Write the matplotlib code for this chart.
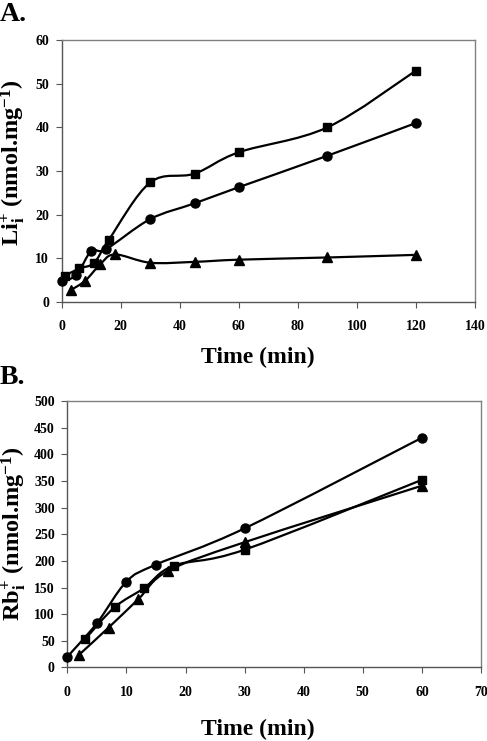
import matplotlib
matplotlib.use('Agg')
import matplotlib.pyplot as plt
from matplotlib.path import Path
from matplotlib.patches import PathPatch
import numpy as np

plt.rcParams['font.family'] = 'Liberation Serif'
plt.rcParams['font.weight'] = 'bold'
plt.rcParams['mathtext.fontset'] = 'custom'
plt.rcParams['mathtext.rm'] = 'Liberation Serif:bold'
plt.rcParams['mathtext.it'] = 'Liberation Serif:bold'
plt.rcParams['mathtext.bf'] = 'Liberation Serif:bold'
plt.rcParams['mathtext.default'] = 'rm'

# panel A: Li+ uptake
li_t_circ = [0, 5, 10, 15, 30, 45, 60, 90, 120]
li_circ = [4.8, 6.2, 11.7, 12.1, 19.0, 22.6, 26.3, 33.5, 41.0]
li_t_sq = [1, 6, 11, 16, 30, 45, 60, 90, 120]
li_sq = [6.0, 7.7, 9.0, 14.3, 27.4, 29.4, 34.3, 40.0, 53.0]
li_t_tri = [3, 8, 13, 18, 30, 45, 60, 90, 120]
li_tri = [2.7, 4.9, 8.6, 10.9, 9.0, 9.2, 9.7, 10.2, 10.8]

# panel B: Rb+ uptake
rb_t_circ = [0, 5, 10, 15, 30, 60]
rb_circ = [20, 83, 161, 193, 261, 431]
rb_t_sq = [3, 8, 13, 18, 30, 60]
rb_sq = [53, 113, 149, 191, 221, 352]
rb_t_tri = [2, 7, 12, 17, 30, 60]
rb_tri = [24, 75, 128, 181, 235, 341]


def smooth_line(ax, x, y):
    # Excel-style smoothed line: cubic bezier segments through the points
    pts = np.column_stack([x, y]).astype(float)
    n = len(pts)
    verts = [pts[0]]
    codes = [Path.MOVETO]
    for i in range(n - 1):
        p0 = pts[i - 1] if i > 0 else pts[i]
        p1 = pts[i]
        p2 = pts[i + 1]
        p3 = pts[i + 2] if i + 2 < n else pts[i + 1]
        c1 = p1 + (p2 - p0) / 6.0
        c2 = p2 - (p3 - p1) / 6.0
        verts += [c1, c2, p2]
        codes += [Path.CURVE4] * 3
    ax.add_patch(PathPatch(Path(verts, codes), fill=False, lw=1.6,
                           edgecolor='black', zorder=2))


def style(ax, xmax, xstep, ymax, ystep):
    ax.set_xlim(0, xmax)
    ax.set_ylim(0, ymax)
    ax.set_xticks(np.arange(0, xmax + 1, xstep))
    ax.set_yticks(np.arange(0, ymax + 1, ystep))
    for s in ax.spines.values():
        s.set_color('#808080')
        s.set_linewidth(1.0)
    ax.spines['left'].set_color('#555555')
    ax.spines['bottom'].set_color('#555555')
    ax.tick_params(direction='out', length=4, width=0.8, color='#555555',
                   labelsize=10)
    ax.tick_params(axis='x', pad=9)
    ax.tick_params(axis='y', pad=5)
    for lab in ax.get_xticklabels() + ax.get_yticklabels():
        lab.set_fontweight('bold')


fig = plt.figure(figsize=(4.87, 7.41), dpi=100)

axA = fig.add_axes([0.1267, 0.5924, 0.8487, 0.3536])
for t, v, m, ms in [(li_t_circ, li_circ, 'o', 6.5), (li_t_sq, li_sq, 's', 6),
                    (li_t_tri, li_tri, '^', 7)]:
    smooth_line(axA, t, v)
    axA.plot(t, v, linestyle='none', marker=m, markersize=ms, color='black',
             zorder=3, clip_on=False)
style(axA, 140, 20, 60, 10)
axA.set_xlabel('Time (min)', fontsize=17, fontweight='bold')
axA.xaxis.set_label_coords(0.475, -0.172)
axA.set_ylabel(r'Li$^{+}_{i}$ (nmol.mg$^{-1}$)', fontsize=17.5,
               fontweight='bold')
axA.yaxis.set_label_coords(-0.083, 0.53)
fig.text(0.0, 0.997, 'A.', fontsize=20, fontweight='bold', va='top', ha='left')

axB = fig.add_axes([0.1382, 0.0992, 0.8495, 0.3597])
for t, v, m, ms in [(rb_t_circ, rb_circ, 'o', 6.5), (rb_t_sq, rb_sq, 's', 6),
                    (rb_t_tri, rb_tri, '^', 7)]:
    smooth_line(axB, t, v)
    axB.plot(t, v, linestyle='none', marker=m, markersize=ms, color='black',
             zorder=3, clip_on=False)
style(axB, 70, 10, 500, 50)
axB.set_xlabel('Time (min)', fontsize=17, fontweight='bold')
axB.xaxis.set_label_coords(0.46, -0.193)
axB.set_ylabel(r'Rb$^{+}_{i}$ (nmol.mg$^{-1}$)', fontsize=17.5,
               fontweight='bold')
axB.yaxis.set_label_coords(-0.096, 0.5)
fig.text(0.0, 0.507, 'B.', fontsize=20, fontweight='bold', va='top', ha='left')

fig.savefig('out.png', dpi=100)
